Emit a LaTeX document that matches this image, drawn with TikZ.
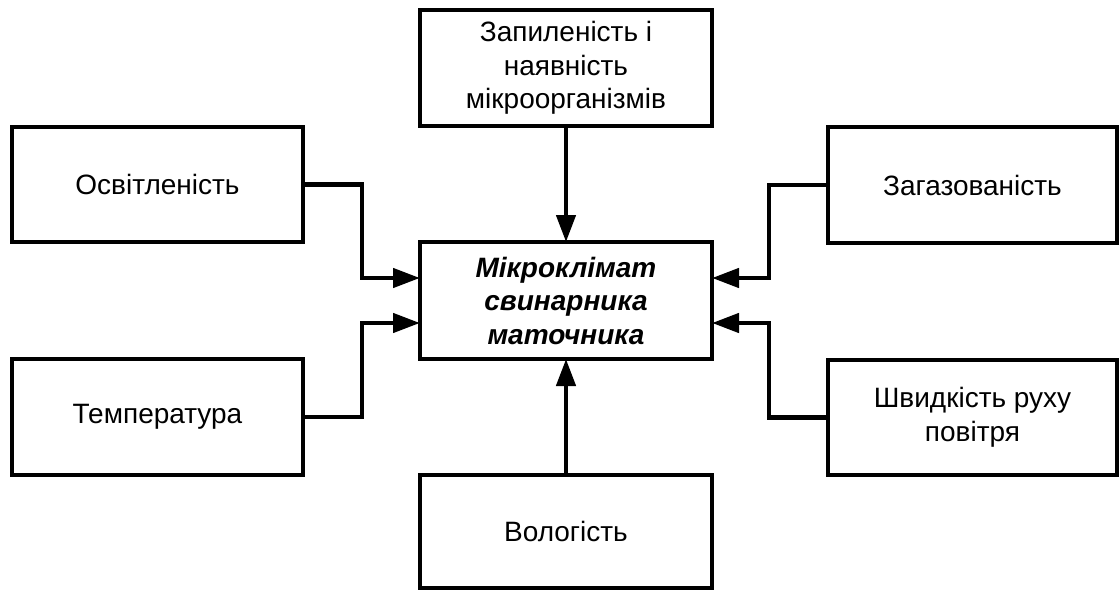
\documentclass[tikz,border=0pt]{standalone}
\usepackage{fontspec}
\setmainfont{Liberation Sans}
\usetikzlibrary{arrows.meta}
\begin{document}
\begin{tikzpicture}[x=1pt,y=-1pt,
  box/.style={draw, line width=4.5pt, outer sep=0pt, inner sep=0pt, align=center,
    font=\fontsize{28}{33.5}\selectfont},
  conn/.style={line width=4.5pt, -{Triangle[length=27pt,width=19pt]}},
  line join=miter]
\useasboundingbox (0,0) rectangle (1119,591);
\node[box, minimum width=292pt, minimum height=116pt] (top) at (566,68) {Запиленість і\\наявність\\мікроорганізмів};
\node[box, minimum width=292pt, minimum height=117pt, font=\fontsize{28}{33.5}\selectfont\bfseries\itshape] (c) at (566,300.5) {Мікроклімат\\свинарника\\маточника};
\node[box, minimum width=292pt, minimum height=113pt] (bot) at (566,531.5) {Вологість};
\node[box, minimum width=291pt, minimum height=115pt] (l1) at (157.5,184.5) {Освітленість};
\node[box, minimum width=291pt, minimum height=116pt] (l2) at (157.5,417) {Температура};
\node[box, minimum width=289pt, minimum height=116pt] (r1) at (972.5,185) {Загазованість};
\node[box, minimum width=289pt, minimum height=115pt] (r2) at (972.5,417.5) {Швидкість руху\\повітря};
\draw[conn] (top.south) -- (c.north);
\draw[conn] (bot.north) -- (c.south);
\draw[conn] (l1.east) -- ++(59,0) |- ([yshift=22.5pt]c.west);
\draw[conn] (l2.east) -- ++(59,0) |- ([yshift=-22.5pt]c.west);
\draw[conn] (r1.west) -- ++(-59,0) |- ([yshift=22.5pt]c.east);
\draw[conn] (r2.west) -- ++(-59,0) |- ([yshift=-22.5pt]c.east);
\end{tikzpicture}
\end{document}
